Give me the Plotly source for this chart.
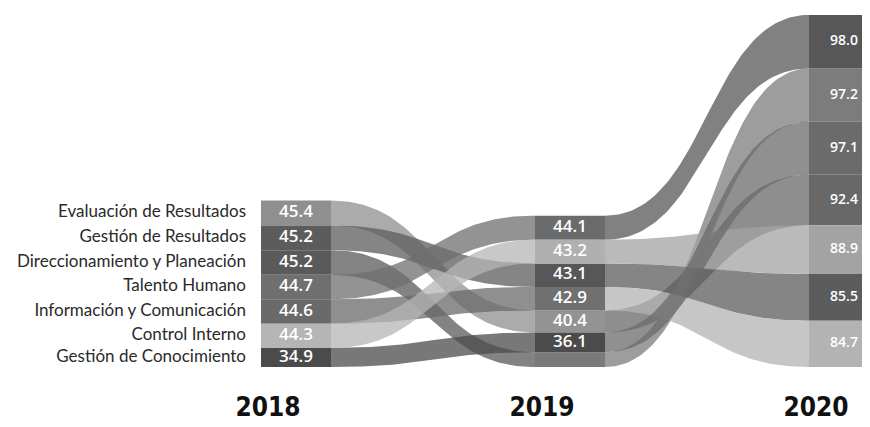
import numpy as np
import plotly.graph_objects as go

# ---------------- data ----------------
years = [2018, 2019, 2020]
series = [
    "Evaluación de Resultados",
    "Gestión de Resultados",
    "Direccionamiento y Planeación",
    "Talento Humano",
    "Información y Comunicación",
    "Control Interno",
    "Gestión de Conocimiento",
]
v2018 = [45.4, 45.2, 45.2, 44.7, 44.6, 44.3, 34.9]
v2019 = [40.4, 43.1, 27.0, 44.1, 42.9, 43.2, 36.1]
v2020 = [92.4, 85.5, 97.2, 98.0, 84.7, 88.9, 97.1]
year_labels = ["2018", "2019", "2020"]

# ---------------- style ----------------
node_shades = {
    "Evaluación de Resultados":      ["#8f8f8f", "#939393", "#686868"],
    "Gestión de Resultados":         ["#5c5c5c", "#575757", "#5c5c5c"],
    "Direccionamiento y Planeación": ["#5a5a5a", "#7a7a7a", "#7c7c7c"],
    "Talento Humano":                ["#6f6f6f", "#6b6b6b", "#575757"],
    "Información y Comunicación":    ["#6a6a6a", "#707070", "#b3b3b3"],
    "Control Interno":               ["#b5b5b5", "#b0b0b0", "#a3a3a3"],
    "Gestión de Conocimiento":       ["#4b4b4b", "#4b4b4b", "#6b6b6b"],
}
RIBBON_ALPHA = 0.75
PX_PER_X = 274.0         # horizontal pixels per year
NODE_W = 70 / PX_PER_X   # column width in x units
X_FIRST_PX = 288.0       # pixel position of first column centre (figure coords)
PX_PER_UNIT = 0.5468     # vertical pixels per value unit
BASE_PX = 359.0          # pixel row of the stack bottom (figure coords)
W, H = 862, 419          # page body keeps an 8px margin
MB = 38                  # bottom margin holding year tick labels
MIN_LABEL_PX = 17        # segments thinner than this get no value label
YEAR_LABEL_SHIFT = -28 / PX_PER_X
label_sizes = [17, 17, 14]
label_weights = [600, 600, 600]

values = np.array([v2018, v2019, v2020])  # shape (year, series)

# stacking: largest on top, bottoms aligned at 0
bottoms = np.zeros_like(values)
for yi in range(len(years)):
    order = sorted(range(len(series)), key=lambda i: -values[yi, i])
    top = values[yi].sum()
    for i in order:
        bottoms[yi, i] = top - values[yi, i]
        top -= values[yi, i]
tops = bottoms + values


def rgba(hexc, a):
    hexc = hexc.lstrip("#")
    r, g, b = (int(hexc[k:k + 2], 16) for k in (0, 2, 4))
    return f"rgba({r},{g},{b},{a})"


fig = go.Figure()

# ribbons
t = np.linspace(0, 1, 80)
S = 3 * t ** 2 - 2 * t ** 3
for gi in range(len(years) - 1):
    x0 = years[gi] + NODE_W / 2
    x1 = years[gi + 1] - NODE_W / 2
    xm = (x0 + x1) / 2
    X = (1 - t) ** 3 * x0 + 3 * (1 - t) ** 2 * t * xm + 3 * (1 - t) * t ** 2 * xm + t ** 3 * x1
    for si, name in enumerate(series):
        ytop = tops[gi, si] + (tops[gi + 1, si] - tops[gi, si]) * S
        ybot = bottoms[gi, si] + (bottoms[gi + 1, si] - bottoms[gi, si]) * S
        shade = node_shades[name][0 if gi == 0 else 2]
        fig.add_trace(go.Scatter(
            x=np.concatenate([X, X[::-1]]),
            y=np.concatenate([ytop, ybot[::-1]]),
            fill="toself", mode="lines", line=dict(width=0),
            fillcolor=rgba(shade, RIBBON_ALPHA), hoverinfo="skip",
        ))

# columns (stacked segments)
for yi, yr in enumerate(years):
    fig.add_trace(go.Bar(
        x=[yr] * len(series), y=values[yi], base=bottoms[yi], width=NODE_W,
        marker=dict(color=[node_shades[n][yi] for n in series], line=dict(width=0)),
        hoverinfo="skip",
    ))
    txt = [f"{v:.1f}" if v * PX_PER_UNIT >= MIN_LABEL_PX else "" for v in values[yi]]
    fig.add_trace(go.Scatter(
        x=[yr] * len(series), y=bottoms[yi] + values[yi] / 2, mode="text",
        text=txt, textposition="middle center",
        textfont=dict(family="Open Sans", size=label_sizes[yi], color="white",
                      weight=label_weights[yi]),
        hoverinfo="skip",
    ))

# series names left of the first column
fig.add_trace(go.Scatter(
    x=[years[0] - NODE_W / 2 - 15 / PX_PER_X] * len(series),
    y=bottoms[0] + values[0] / 2, mode="text", text=series,
    textposition="middle left",
    textfont=dict(family="Lato", size=17, color="#2a2a2a"),
    hoverinfo="skip",
))

plot_h = H - MB
y_top = BASE_PX / PX_PER_UNIT
y_bot = y_top - plot_h / PX_PER_UNIT
x_lo = years[0] - X_FIRST_PX / PX_PER_X
x_hi = x_lo + W / PX_PER_X

fig.update_layout(
    width=W, height=H, margin=dict(l=0, r=0, t=0, b=MB),
    paper_bgcolor="white", plot_bgcolor="white", showlegend=False,
    barmode="overlay",
    xaxis=dict(range=[x_lo, x_hi], tickvals=[y + YEAR_LABEL_SHIFT for y in years],
               ticktext=year_labels, ticklabeloverflow="allow",
               showgrid=False, zeroline=False, showline=False, ticks="",
               tickfont=dict(family="DejaVu Sans Condensed, DejaVu Sans, sans-serif",
                             size=26, color="#111", weight="bold")),
    yaxis=dict(range=[y_bot, y_top], visible=False),
)

fig.write_html("out.html")
